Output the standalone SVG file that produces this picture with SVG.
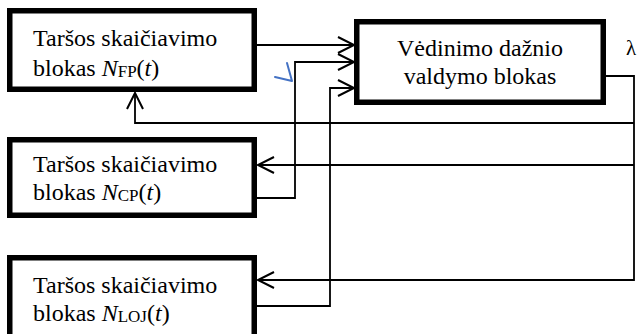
<svg xmlns="http://www.w3.org/2000/svg" width="640" height="334" viewBox="0 0 640 334">
  <style>
    .box { fill: #fff; stroke: #000; stroke-width: 5.5; }
    .txt { font-family: 'Liberation Serif', serif; font-size: 24px; fill: #000; }
    .sub { font-size: 17px; }
    .it { font-style: italic; }
    .wire { fill: none; stroke: #000; stroke-width: 1.8; }
    .head { fill: none; stroke: #000; stroke-width: 2; }
  </style>
  <defs>
    <!-- open arrowhead, tip at the origin, pointing along +x -->
    <path id="ah" class="head" d="M-16,-8 L0,0 L-16,8"/>
  </defs>

  <!-- pollution calculation block N_FP(t) -->
  <g id="block-fp">
    <rect class="box" x="9.75" y="10.75" width="244.5" height="78.5"/>
    <text class="txt" x="33" y="46">Taršos skaičiavimo</text>
    <text class="txt" x="33" y="76">blokas <tspan class="it">N</tspan><tspan class="sub" dy="1">FP</tspan><tspan dy="-1">(</tspan><tspan class="it">t</tspan>)</text>
  </g>

  <!-- pollution calculation block N_CP(t) -->
  <g id="block-cp">
    <rect class="box" x="9.75" y="139.75" width="244.5" height="75.5"/>
    <text class="txt" x="33" y="172">Taršos skaičiavimo</text>
    <text class="txt" x="33" y="200">blokas <tspan class="it">N</tspan><tspan class="sub" dy="1">CP</tspan><tspan dy="-1">(</tspan><tspan class="it">t</tspan>)</text>
  </g>

  <!-- pollution calculation block N_LOJ(t) -->
  <g id="block-loj">
    <rect class="box" x="9.75" y="257.75" width="244.5" height="82"/>
    <text class="txt" x="33" y="293">Taršos skaičiavimo</text>
    <text class="txt" x="33" y="321">blokas <tspan class="it">N</tspan><tspan class="sub" dy="1">LOJ</tspan><tspan dy="-1">(</tspan><tspan class="it">t</tspan>)</text>
  </g>

  <!-- ventilation frequency control block -->
  <g id="block-control">
    <rect class="box" x="356.75" y="21.75" width="246.5" height="80.5"/>
    <text class="txt" x="480" y="56" text-anchor="middle">Vėdinimo dažnio</text>
    <text class="txt" x="480" y="84" text-anchor="middle">valdymo blokas</text>
  </g>

  <!-- output label -->
  <g id="label-lambda">
    <text class="txt" x="626" y="55" style="font-size:21px">λ</text>
  </g>

  <!-- connectors -->
  <g id="connectors">
    <path class="wire" d="M257,45 H353"/>
    <path class="wire" d="M257,198 H295 V62 H353"/>
    <path class="wire" d="M257,306 H330 V88 H353"/>
    <path class="wire" d="M606,76 H634 V280 H259"/>
    <path class="wire" d="M634,165 H259"/>
    <path class="wire" d="M634,123 H135 V94"/>
    <use href="#ah" transform="translate(354,45)"/>
    <use href="#ah" transform="translate(354,62)"/>
    <use href="#ah" transform="translate(354,88)"/>
    <use href="#ah" transform="translate(258,280) rotate(180)"/>
    <use href="#ah" transform="translate(258,165) rotate(180)"/>
    <use href="#ah" transform="translate(135,93) rotate(-90)"/>
  </g>

  <!-- hand-drawn blue tick -->
  <path d="M275,77 L292,81 L287,63" fill="none" stroke="#4472C4" stroke-width="2" stroke-linecap="round" stroke-linejoin="round"/>
</svg>
